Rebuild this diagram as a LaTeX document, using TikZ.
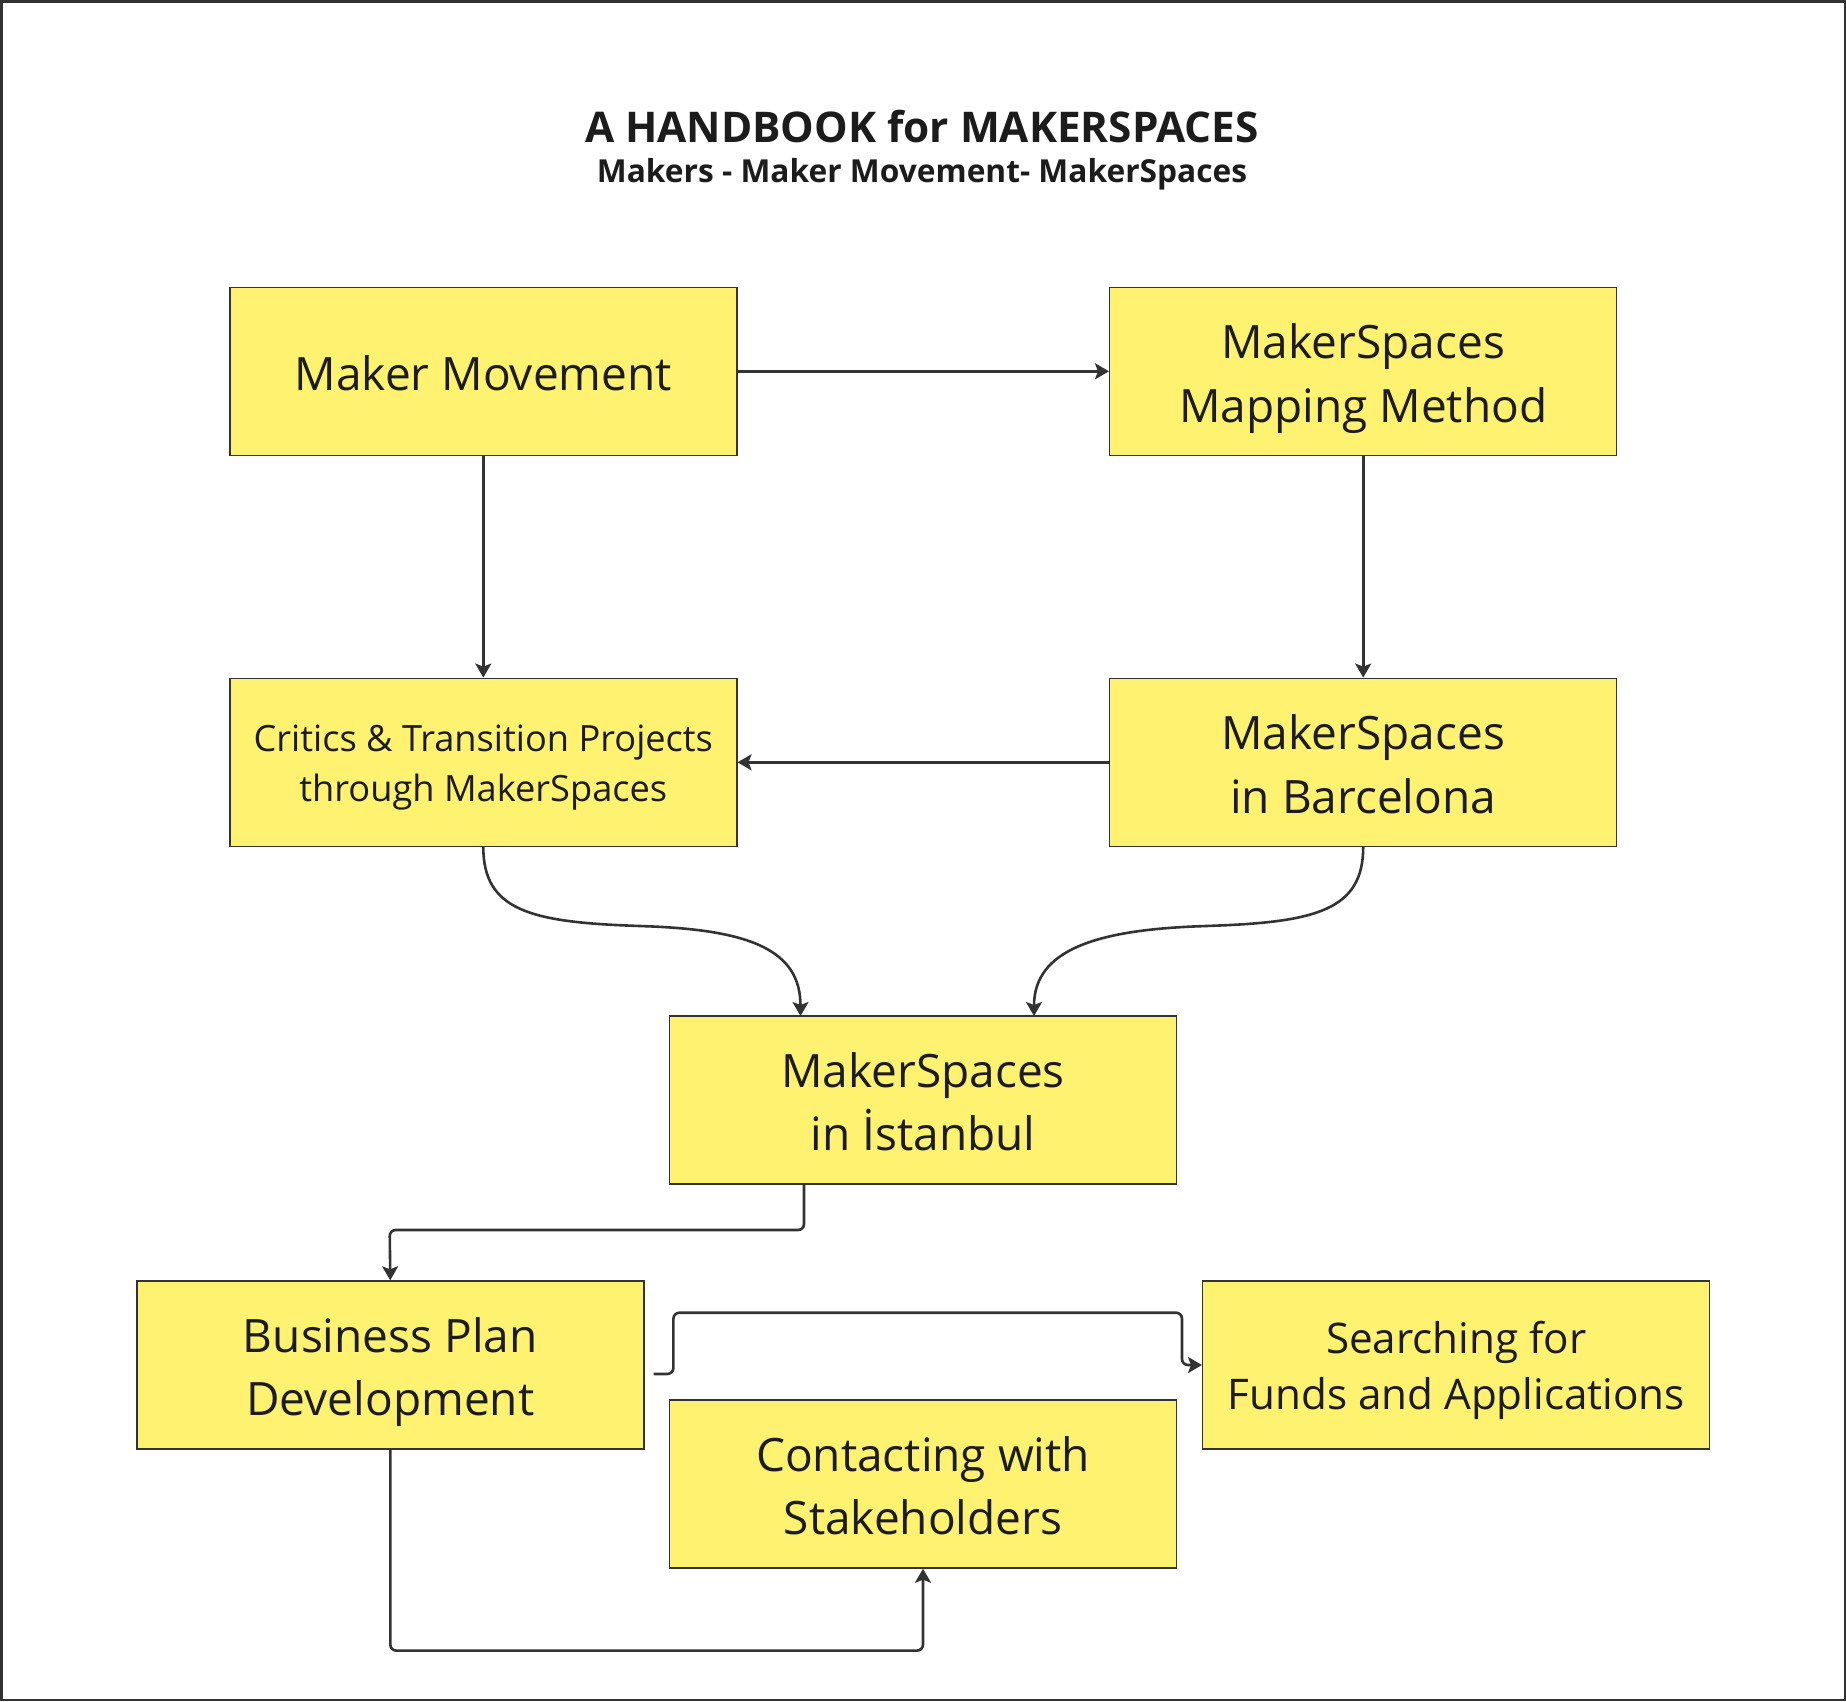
\documentclass[tikz,border=0pt]{standalone}
\usepackage{fontspec}
\setmainfont{Open Sans}
\usetikzlibrary{arrows.meta,calc}
\definecolor{boxfill}{HTML}{FFF270}
\definecolor{linec}{HTML}{333333}
\definecolor{txt}{HTML}{1C1C1C}
\newcommand\Lst{\rule[-12.75pt]{0pt}{63.5pt}}
\newcommand\Sst{\rule[-8.3pt]{0pt}{49.4pt}}
\newcommand\Mst{\rule[-10.65pt]{0pt}{56.5pt}}
\tikzset{
  box/.style={draw=linec, line width=1.4pt, fill=boxfill, minimum width=507pt, minimum height=168pt, inner sep=0pt, align=center, text=txt, font=\fontsize{46}{63.5}\selectfont, execute at end node=\Lst},
  smallbox/.style={box, font=\fontsize{36.2}{49.4}\selectfont, execute at end node=\Sst},
  midbox/.style={box, font=\fontsize{42.2}{56.5}\selectfont, execute at end node=\Mst},
  conn/.style={draw=linec, line width=2.6pt, -{Stealth[length=14pt,width=16pt,inset=3pt]}, rounded corners=6pt}
}
\begin{document}
\begin{tikzpicture}[x=1pt,y=-1pt]
\useasboundingbox (0,0) rectangle (1846,1701);
\draw[draw=linec, line width=2.5pt] (1.25,1.25) rectangle (1844.75,1699.75);
\node[text=txt, font=\bfseries\fontsize{42.3}{50}\selectfont] (title) at (922,127) {A HANDBOOK for MAKERSPACES};
\node[text=txt, font=\bfseries\fontsize{31.7}{38}\selectfont] (sub) at (922,174.5) {Makers - Maker Movement- MakerSpaces};

\node[box] (mm) at (483.3,371.3) {\Lst Maker Movement};
\node[box] (map) at (1363.2,371.3) {\Lst MakerSpaces\\Mapping Method};
\node[smallbox] (cri) at (483.3,762.3) {\Sst Critics \& Transition Projects\\through MakerSpaces};
\node[box] (bar) at (1363.2,762.3) {\Lst MakerSpaces\\in Barcelona};
\node[box] (ist) at (923,1100) {\Lst MakerSpaces\\in İstanbul};
\node[box] (bpd) at (390.3,1365) {\Lst Business Plan\\Development};
\node[midbox] (sea) at (1456.2,1365) {\Mst Searching for\\Funds and Applications};
\node[box] (con) at (923,1484) {\Lst Contacting with\\Stakeholders};

\draw[conn] (mm.east) -- (map.west);
\draw[conn] (mm.south) -- (cri.north);
\draw[conn] (map.south) -- (bar.north);
\draw[conn] (bar.west) -- (cri.west -| cri.east);
\coordinate (lm) at (640,926);
\coordinate (rm) at (1206,926);
\draw[conn] (cri.south) .. controls +(0,63) and (530,922) .. (lm) .. controls +(110,4) and +(0,-66) .. (800.5,1016);
\draw[conn] (bar.south) .. controls +(0,63) and (1316,922) .. (rm) .. controls +(-110,4) and +(0,-66) .. (1034,1016);
\draw[conn] (804,1184) |- (389.7,1230) -- (bpd.north);
\coordinate (bs) at ($(bpd.east)+(9,9)$);
\draw[conn] (bs) -- (673.4,1373.9) |- (1182,1312.7) |- (sea.west);
\draw[conn] (bpd.south) |- (923,1650.6) -- (con.south);
\end{tikzpicture}
\end{document}
